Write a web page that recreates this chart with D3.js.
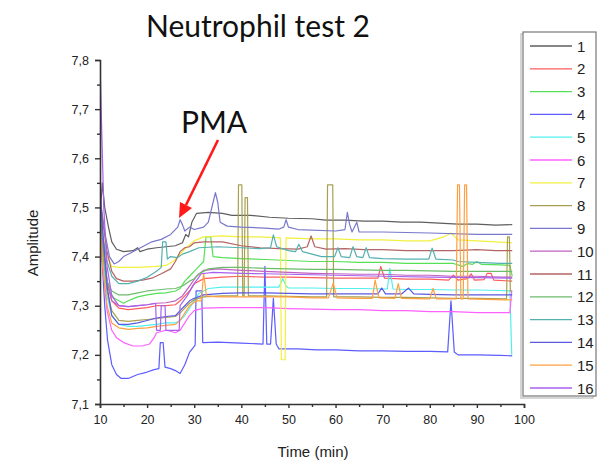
<!DOCTYPE html>
<html>
<head>
<meta charset="utf-8">
<script src="https://cdn.jsdelivr.net/npm/d3@7"></script>
<style>
  html, body { margin: 0; padding: 0; background: #fff; }
  svg { display: block; }
</style>
</head>
<body>
<svg id="chart" width="601" height="464"></svg>
<script>
// Amplitude traces, [time (min), amplitude]
const trace1 = [[10,7.48],[10.5,7.55],[11,7.50],[11.8,7.46],[12.5,7.43],[13.5,7.415],[15,7.41],[17,7.412],[18,7.418],[18.5,7.41],[20,7.415],[22,7.418],[24,7.42],[26,7.422],[27.5,7.428],[28.2,7.445],[28.8,7.44],[29.5,7.47],[30.5,7.488],[33,7.49],[36,7.488],[38,7.484],[42,7.484],[46,7.48],[50,7.478],[55,7.477],[58,7.474],[62,7.474],[66,7.472],[70,7.472],[74,7.47],[78,7.47],[82,7.468],[86,7.466],[90,7.466],[94,7.464],[97.5,7.465]];
const trace2 = [[10,7.52],[10.6,7.44],[11.5,7.35],[12.5,7.31],[14,7.295],[16,7.292],[18,7.294],[20,7.296],[22,7.30],[24,7.30],[26,7.302],[27,7.31],[28,7.32],[29,7.33],[30,7.345],[32,7.355],[36,7.358],[40,7.36],[45,7.358],[50,7.358],[55,7.357],[60,7.356],[65,7.356],[69,7.356],[69.6,7.38],[70.4,7.356],[75,7.354],[80,7.354],[84,7.352],[85,7.362],[86,7.352],[88,7.355],[88.8,7.365],[89.5,7.352],[91.5,7.353],[92.2,7.366],[93,7.366],[93.6,7.352],[97.5,7.35]];
const trace3 = [[10,7.48],[10.6,7.42],[11.2,7.36],[12,7.33],[13,7.315],[14,7.31],[15,7.305],[16,7.31],[18,7.318],[20,7.322],[22,7.325],[24,7.326],[26,7.33],[27,7.335],[28,7.35],[29,7.36],[30,7.37],[31,7.38],[32,7.39],[32.5,7.44],[33.5,7.44],[34,7.40],[36,7.398],[40,7.396],[45,7.394],[50,7.392],[55,7.39],[60,7.39],[65,7.388],[70,7.388],[75,7.386],[80,7.386],[85,7.386],[87,7.38],[88,7.386],[89,7.384],[90,7.39],[91,7.384],[95,7.383],[97,7.382],[97.5,7.36]];
const trace4 = [[10,7.52],[10.4,7.40],[11,7.30],[11.6,7.23],[12.5,7.18],[13.5,7.16],[14.5,7.152],[16,7.152],[18,7.16],[20,7.165],[21.5,7.17],[22.5,7.172],[22.8,7.225],[23.4,7.225],[23.8,7.175],[25,7.172],[26,7.168],[27,7.162],[28,7.18],[29,7.205],[30.2,7.22],[30.4,7.33],[31.6,7.33],[31.8,7.225],[35,7.226],[40,7.224],[44.6,7.222],[45,7.38],[45.4,7.222],[46.2,7.222],[46.8,7.315],[47.4,7.222],[48,7.212],[52,7.212],[56,7.21],[60,7.21],[65,7.208],[70,7.208],[75,7.207],[80,7.207],[83.8,7.206],[84.5,7.31],[85.2,7.206],[86,7.2],[90,7.2],[95,7.199],[97.5,7.198]];
const trace5 = [[10,7.48],[10.6,7.40],[11.5,7.32],[12.5,7.28],[14,7.262],[16,7.258],[18,7.258],[20,7.26],[22,7.262],[24,7.265],[26,7.265],[27,7.27],[28,7.28],[29,7.295],[30,7.31],[31,7.325],[33,7.335],[36,7.338],[40,7.338],[45,7.338],[48,7.338],[48.8,7.355],[49.5,7.34],[50,7.336],[55,7.336],[60,7.335],[65,7.335],[71,7.334],[71.5,7.376],[72.2,7.334],[75,7.333],[80,7.333],[85,7.332],[90,7.332],[95,7.331],[97,7.33],[97.4,7.2]];
const trace6 = [[10,7.47],[10.6,7.38],[11.5,7.29],[12.5,7.25],[13.5,7.235],[15,7.225],[17,7.218],[19,7.218],[20.5,7.222],[21.5,7.235],[22,7.245],[24,7.25],[25,7.248],[26,7.245],[27,7.25],[28,7.265],[29,7.28],[30,7.29],[32,7.295],[36,7.296],[40,7.296],[45,7.296],[50,7.294],[55,7.293],[60,7.292],[65,7.292],[70,7.29],[75,7.29],[80,7.288],[85,7.288],[90,7.286],[95,7.286],[97,7.286],[97.4,7.33]];
const trace7 = [[10,7.50],[10.6,7.45],[11.5,7.40],[12.5,7.38],[14,7.378],[18,7.378],[22,7.38],[24,7.382],[25.5,7.39],[27,7.405],[28.5,7.42],[30,7.432],[32,7.44],[36,7.442],[40,7.44],[44,7.44],[48.3,7.438],[48.5,7.19],[49.3,7.19],[49.5,7.438],[55,7.436],[60,7.436],[65,7.434],[70,7.434],[75,7.432],[80,7.432],[83,7.44],[84.5,7.448],[86,7.434],[90,7.432],[94,7.43],[97.5,7.428]];
const trace8 = [[10,7.50],[10.6,7.42],[11.5,7.33],[12.5,7.29],[14,7.27],[16,7.268],[18,7.27],[20,7.272],[22,7.274],[24,7.276],[26,7.278],[27,7.285],[28,7.295],[29,7.305],[30,7.312],[32,7.318],[36,7.32],[39.2,7.32],[39.4,7.546],[40.1,7.546],[40.3,7.32],[40.6,7.32],[40.8,7.52],[41.3,7.52],[41.5,7.32],[45,7.32],[50,7.319],[55,7.318],[58.1,7.318],[58.3,7.546],[59.4,7.546],[59.6,7.318],[65,7.318],[70,7.317],[75,7.317],[80,7.316],[85,7.315],[90,7.315],[96.3,7.314],[96.5,7.44],[96.9,7.44],[97.1,7.33],[97.5,7.33]];
const trace9 = [[10,7.52],[11,7.45],[12,7.40],[13,7.385],[14,7.39],[15,7.40],[17,7.41],[19,7.42],[21,7.43],[23,7.435],[25,7.445],[26.5,7.46],[27,7.475],[27.5,7.465],[28,7.452],[29,7.46],[30,7.455],[32,7.46],[33,7.47],[34,7.51],[34.5,7.53],[35,7.51],[35.5,7.47],[37,7.462],[40,7.46],[45,7.458],[48,7.456],[49,7.46],[49.5,7.475],[50,7.46],[52,7.455],[60,7.452],[62,7.455],[62.5,7.49],[63,7.465],[63.5,7.45],[64.5,7.47],[65,7.45],[70,7.45],[80,7.448],[90,7.445],[97.5,7.445]];
const trace10 = [[10,7.50],[10.6,7.43],[11.5,7.35],[12.5,7.31],[14,7.30],[16,7.298],[18,7.30],[20,7.302],[22,7.305],[24,7.306],[26,7.31],[27.5,7.32],[29,7.34],[30.5,7.36],[32,7.372],[35,7.375],[40,7.372],[45,7.37],[50,7.368],[55,7.366],[60,7.365],[65,7.364],[70,7.364],[75,7.362],[80,7.362],[85,7.36],[90,7.36],[95,7.358],[97.5,7.358]];
const trace11 = [[10,7.52],[10.6,7.47],[11.5,7.41],[12.5,7.37],[13.5,7.355],[15,7.35],[17,7.35],[19,7.352],[21,7.356],[23,7.365],[25,7.375],[26,7.39],[27,7.41],[28,7.418],[29,7.42],[30,7.428],[32,7.43],[36,7.43],[40,7.422],[44,7.418],[48,7.416],[52,7.415],[54,7.42],[54.8,7.442],[55.6,7.42],[58,7.415],[62,7.416],[66,7.414],[70,7.414],[75,7.412],[80,7.412],[85,7.412],[90,7.414],[94,7.412],[97.5,7.412]];
const trace12 = [[10,7.46],[10.6,7.40],[11.5,7.35],[12.5,7.33],[14,7.322],[16,7.322],[18,7.326],[20,7.33],[22,7.332],[24,7.334],[26,7.335],[27.5,7.34],[29,7.35],[30,7.355],[31,7.365],[33,7.375],[36,7.378],[40,7.378],[45,7.376],[50,7.375],[55,7.374],[60,7.374],[65,7.373],[70,7.372],[75,7.372],[80,7.371],[85,7.37],[90,7.37],[95,7.37],[97.5,7.37]];
const trace13 = [[10,7.50],[10.6,7.44],[11.5,7.39],[12.5,7.36],[14,7.345],[16,7.345],[18,7.35],[20,7.358],[22,7.37],[23,7.378],[23.3,7.43],[24,7.43],[24.3,7.395],[25,7.40],[26.5,7.398],[27.5,7.405],[29,7.41],[31,7.418],[35,7.42],[40,7.418],[44,7.416],[46.2,7.418],[46.8,7.444],[47.5,7.42],[50,7.412],[51.5,7.41],[52.2,7.425],[53,7.41],[55,7.405],[57,7.40],[59.8,7.40],[60.5,7.418],[61.2,7.40],[63,7.398],[63.7,7.42],[64.5,7.40],[65.8,7.398],[66.5,7.418],[67.2,7.398],[70,7.396],[75,7.395],[79.8,7.395],[80.5,7.417],[81.3,7.395],[85,7.393],[86,7.39],[90,7.388],[95,7.386],[97.5,7.386]];
const trace14 = [[10,7.53],[10.6,7.45],[11.5,7.34],[12.5,7.28],[14,7.262],[16,7.262],[18,7.265],[20,7.27],[22,7.275],[24,7.278],[26,7.28],[27,7.29],[28,7.30],[29,7.31],[30,7.315],[32,7.322],[36,7.325],[40,7.326],[45,7.326],[50,7.325],[55,7.324],[60,7.324],[65,7.324],[69,7.324],[69.8,7.336],[70.6,7.324],[74,7.324],[75.5,7.336],[76.6,7.324],[80,7.323],[85,7.322],[90,7.322],[95,7.322],[97.5,7.322]];
const trace15 = [[10,7.46],[10.6,7.38],[11.5,7.30],[12.5,7.265],[14,7.255],[16,7.252],[18,7.254],[20,7.255],[22,7.258],[24,7.26],[26,7.262],[27,7.27],[28,7.285],[29,7.30],[30.5,7.31],[31.5,7.31],[32,7.366],[32.6,7.32],[35,7.318],[40,7.318],[45,7.318],[50,7.318],[55,7.316],[58.5,7.316],[59.5,7.346],[60.3,7.316],[65,7.315],[67.8,7.315],[68.4,7.352],[69.2,7.316],[72.6,7.315],[73.3,7.345],[74,7.315],[80,7.314],[80.7,7.335],[81.4,7.314],[85.6,7.314],[85.9,7.546],[86.3,7.546],[86.6,7.314],[87.1,7.314],[87.4,7.546],[87.8,7.546],[88.1,7.314],[92,7.313],[96,7.312],[97.5,7.312]];
const trace16 = [[10,7.8],[10.3,7.68],[10.8,7.50],[11.5,7.38],[12.5,7.32],[14,7.30],[16,7.298],[18,7.30],[20,7.302],[21.8,7.305],[22,7.25],[22.8,7.25],[23,7.30],[23.8,7.30],[24,7.25],[26.8,7.25],[27,7.30],[28.5,7.32],[30,7.345],[31.5,7.365],[34,7.368],[40,7.366],[45,7.365],[50,7.364],[60,7.362],[70,7.36],[80,7.358],[90,7.357],[97.5,7.356]];

const seriesNames = ["1","2","3","4","5","6","7","8","9","10","11","12","13","14","15","16"];
const seriesColors = ["#5e5e5e","#ff5c5c","#55e055","#5c5cff","#50f0f0","#ff60ff","#f2f040","#a8a050",
                      "#7878cc","#c060c0","#b46464","#6cbc6c","#55b0b0","#5a5ae0","#ffa040","#a860f0"];
const traces = [trace1,trace2,trace3,trace4,trace5,trace6,trace7,trace8,
                trace9,trace10,trace11,trace12,trace13,trace14,trace15,trace16];

const xTicks = [10,20,30,40,50,60,70,80,90,100];
const yTicks = [7.1,7.2,7.3,7.4,7.5,7.6,7.7,7.8];

const svg = d3.select("#chart");
const plot = {left: 100, right: 524, top: 60, bottom: 404};

const x = d3.scaleLinear().domain([10, 100]).range([plot.left, plot.right]);
const y = d3.scaleLinear().domain([7.1, 7.8]).range([plot.bottom, plot.top]);

const fmt = v => d3.format(".1f")(v).replace(".", ",");

// clip traces to the plotting frame
svg.append("defs").append("clipPath").attr("id", "plotClip")
  .append("rect").attr("x", plot.left).attr("y", plot.top - 1)
  .attr("width", plot.right - plot.left).attr("height", plot.bottom - plot.top + 1);

const line = d3.line().x(d => x(d[0])).y(d => y(d[1]));

const gLines = svg.append("g").attr("clip-path", "url(#plotClip)");
traces.forEach((tr, i) => {
  gLines.append("path").datum(tr)
    .attr("d", line)
    .attr("fill", "none")
    .attr("stroke", seriesColors[i])
    .attr("stroke-width", 1.2)
    .attr("stroke-linejoin", "round");
});

// axes
const axisColor = "#333";
svg.append("g").attr("transform", `translate(0,${plot.bottom})`)
  .call(d3.axisBottom(x).tickValues(xTicks).tickFormat(d3.format("d")).tickSize(4).tickPadding(7));
svg.append("g").attr("transform", `translate(${plot.left},0)`)
  .call(d3.axisLeft(y).tickValues(yTicks).tickFormat(fmt).tickSize(5).tickPadding(6));

// minor ticks
svg.append("g").attr("transform", `translate(0,${plot.bottom})`)
  .call(d3.axisBottom(x).tickValues(d3.range(15, 100, 10)).tickFormat("").tickSize(3))
  .call(g => g.select(".domain").remove());
svg.append("g").attr("transform", `translate(${plot.left},0)`)
  .call(d3.axisLeft(y).tickValues(d3.range(7.15, 7.8, 0.1)).tickFormat("").tickSize(3))
  .call(g => g.select(".domain").remove());

svg.selectAll(".domain").attr("stroke", axisColor).attr("stroke-width", 1.6);
svg.selectAll(".tick line").attr("stroke", axisColor).attr("stroke-width", 1.4);
svg.selectAll(".tick text")
  .attr("font-family", "Liberation Sans, Arial, sans-serif")
  .attr("font-size", 12.5).attr("fill", "#222");

// axis titles
svg.append("text").attr("x", 313).attr("y", 457).attr("text-anchor", "middle")
  .attr("font-family", "Liberation Sans, Arial, sans-serif").attr("font-size", 15).attr("fill", "#222")
  .text("Time (min)");
svg.append("text").attr("transform", "translate(38,243) rotate(-90)").attr("text-anchor", "middle")
  .attr("font-family", "Liberation Sans, Arial, sans-serif").attr("font-size", 15).attr("fill", "#222")
  .text("Amplitude");

// title
svg.append("text").attr("x", 258).attr("y", 37).attr("text-anchor", "middle")
  .attr("font-family", "Lato, 'Open Sans', sans-serif").attr("font-size", 30).attr("fill", "#111")
  .text("Neutrophil test 2");

// PMA annotation with arrow
svg.append("text").attr("x", 181).attr("y", 133)
  .attr("font-family", "Lato, 'Open Sans', sans-serif").attr("font-size", 30).attr("fill", "#111")
  .text("PMA");
svg.append("line").attr("x1", 218).attr("y1", 140).attr("x2", 186).attr("y2", 205)
  .attr("stroke", "#ff1a1a").attr("stroke-width", 2.6);
svg.append("path").attr("d", "M179,218 L180,202 L192,208 Z").attr("fill", "#ff1a1a");

// legend
const legend = svg.append("g");
legend.append("rect").attr("x", 521).attr("y", 34).attr("width", 72).attr("height", 364)
  .attr("fill", "none").attr("stroke", "#c8c8c8").attr("stroke-width", 1.5);
legend.append("rect").attr("x", 523).attr("y", 32).attr("width", 73).attr("height", 364)
  .attr("fill", "#fff").attr("stroke", "#777").attr("stroke-width", 1.2);
seriesNames.forEach((name, i) => {
  const ly = 46 + i * 22.8;
  legend.append("line").attr("x1", 530).attr("x2", 572).attr("y1", ly).attr("y2", ly)
    .attr("stroke", seriesColors[i]).attr("stroke-width", 1.3);
  legend.append("text").attr("x", 577).attr("y", ly + 5.5)
    .attr("font-family", "Liberation Sans, Arial, sans-serif").attr("font-size", 15).attr("fill", "#222")
    .text(name);
});
</script>
</body>
</html>
